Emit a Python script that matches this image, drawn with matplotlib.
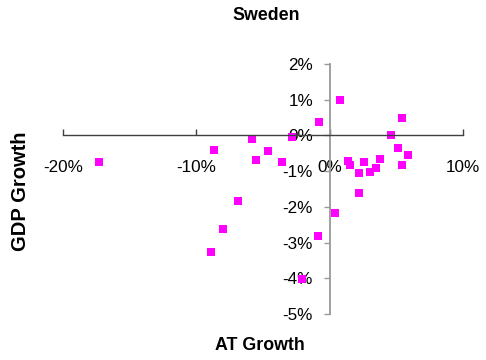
import matplotlib.pyplot as plt
from matplotlib.ticker import FuncFormatter

plt.rcParams['font.family'] = ['Liberation Sans', 'DejaVu Sans']

# values in percent
at_growth = [-17.3, -8.7, -5.8, -5.5, -4.6, -6.9, -8.0, -8.9, -3.6, -2.8,
             -0.8, 0.8, 1.4, 1.5, 2.6, 2.2, 3.0, 3.5, 3.8, 2.2,
             4.6, 5.4, 5.1, 5.9, 5.4, 0.4, -0.9, -2.1]
gdp_growth = [-0.73, -0.40, -0.09, -0.68, -0.44, -1.83, -2.63, -3.25, -0.75, -0.05,
              0.38, 0.99, -0.72, -0.83, -0.75, -1.06, -1.02, -0.91, -0.65, -1.61,
              0.00, 0.48, -0.36, -0.56, -0.82, -2.17, -2.82, -4.01]
x_ticks = [-20, -10, 0, 10]
y_ticks = [-5, -4, -3, -2, -1, 0, 1, 2]

fig = plt.figure(figsize=(4.86, 3.6), dpi=100)
ax = fig.add_axes([63 / 486, 1 - 314 / 360, 400 / 486, 250 / 360])

ax.plot(at_growth, gdp_growth, 's', color='#ff00ff', markersize=6, markeredgewidth=0, zorder=2)

ax.set_xlim(-20, 10)
ax.set_ylim(-5, 2)
ax.set_xticks(x_ticks)
ax.set_yticks(y_ticks)
pct = FuncFormatter(lambda v, p: '%d%%' % v)
ax.xaxis.set_major_formatter(pct)
ax.yaxis.set_major_formatter(pct)

for s in ['top', 'right']:
    ax.spines[s].set_visible(False)
ax.spines['left'].set_position(('data', 0))
ax.spines['bottom'].set_position(('data', 0))
ax.spines['left'].set_color('#999999')
ax.spines['bottom'].set_color('#404040')
ax.spines['left'].set_linewidth(1.3)
ax.spines['bottom'].set_linewidth(1.0)

ax.tick_params(axis='x', direction='in', length=4.5, width=1, color='#404040',
               pad=18, labelsize=12.3, labelcolor='black')
ax.tick_params(axis='y', direction='out', length=4.5, width=1, color='#999999',
               pad=7.5, labelsize=12.3, labelcolor='black')

fig.text(266 / 486, 1 - 15 / 360, 'Sweden', ha='center', va='center',
         fontsize=12.8, fontweight='bold')
fig.text(260 / 486, 1 - 345 / 360, 'AT Growth', ha='center', va='center',
         fontsize=12.8, fontweight='bold')
fig.text(20 / 486, 1 - 191 / 360, 'GDP Growth', ha='center', va='center',
         rotation=90, fontsize=14.5, fontweight='bold')

fig.savefig('out.png', dpi=100)
